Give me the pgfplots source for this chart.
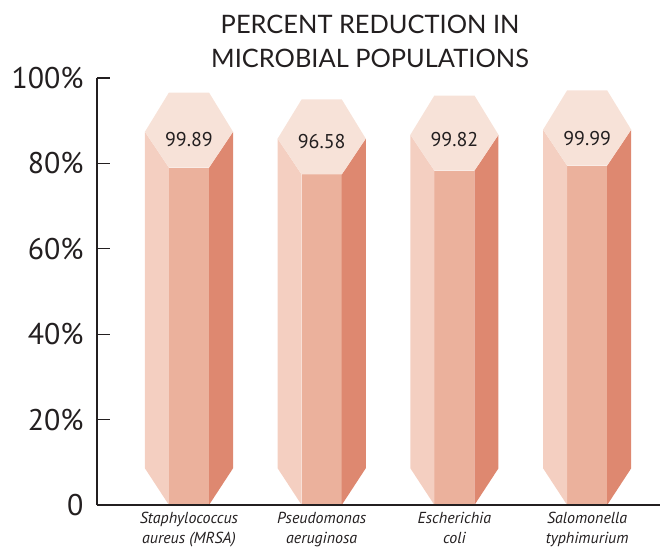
\documentclass[border=0pt]{standalone}
\usepackage{pgfplots}
\pgfplotsset{compat=1.18}
\usepackage{fontspec}
\setmainfont{PT Sans}
\newfontfamily\titlefont{Lato}
\definecolor{topc}{HTML}{F7E2D8}
\definecolor{leftc}{HTML}{F4CFC1}
\definecolor{midc}{HTML}{EBB19C}
\definecolor{rightc}{HTML}{DE8870}
\definecolor{textc}{HTML}{231F20}
\begin{document}
\begin{tikzpicture}
\useasboundingbox (-97bp,-45bp) rectangle (563bp,505bp);
\begin{axis}[
  at={(0,0)}, anchor=south west,
  scale only axis, width=563bp, height=427bp,
  xmin=-0.693, xmax=3.549, ymin=0, ymax=100,
  axis x line=bottom, axis y line=left,
  axis line style={-, line width=1.3bp, color=textc},
  clip=false, axis on top,
  ytick={0,20,40,60,80,100},
  yticklabels={0,20\%,40\%,60\%,80\%,100\%},
  tick align=inside, major tick length=13bp,
  ytick style={line width=1.3bp, color=textc},
  yticklabel style={font=\fontsize{30}{30}\selectfont, text=textc, xshift=-10bp},
  xtick={0,1,2,3},
  xticklabels={{Staphylococcus\\aureus (MRSA)},{Pseudomonas\\aeruginosa},{Escherichia\\coli},{Salomonella\\typhimurium}},
  xtick style={draw=none},
  xticklabel style={font=\itshape\fontsize{16}{20}\selectfont, align=center, text=textc, yshift=-4bp},
  title={PERCENT REDUCTION IN\\MICROBIAL POPULATIONS},
  title style={at={(0.485,1.071)}, anchor=center, align=center, font=\titlefont\fontsize{25.5}{34}\selectfont, text=textc},
]
% Bar 1
\addplot[fill=midc, draw=none] coordinates {(-0.151,0) (0.151,0) (0.151,79.0) (-0.151,79.0)};
\addplot[fill=leftc, draw=none] coordinates {(-0.332,8.6) (-0.151,0) (-0.151,79.0) (-0.332,87.4)};
\addplot[fill=rightc, draw=none] coordinates {(0.332,8.6) (0.151,0) (0.151,79.0) (0.332,87.4)};
\addplot[fill=topc, draw=none] coordinates {(-0.151,79.0) (0.151,79.0) (0.332,87.4) (0.151,96.6) (-0.151,96.6) (-0.332,87.4)};
% Bar 2
\addplot[fill=midc, draw=none] coordinates {(0.849,0) (1.151,0) (1.151,77.4) (0.849,77.4)};
\addplot[fill=leftc, draw=none] coordinates {(0.668,8.6) (0.849,0) (0.849,77.4) (0.668,85.8)};
\addplot[fill=rightc, draw=none] coordinates {(1.332,8.6) (1.151,0) (1.151,77.4) (1.332,85.8)};
\addplot[fill=topc, draw=none] coordinates {(0.849,77.4) (1.151,77.4) (1.332,85.8) (1.151,95.0) (0.849,95.0) (0.668,85.8)};
% Bar 3
\addplot[fill=midc, draw=none] coordinates {(1.849,0) (2.151,0) (2.151,78.3) (1.849,78.3)};
\addplot[fill=leftc, draw=none] coordinates {(1.668,8.6) (1.849,0) (1.849,78.3) (1.668,86.7)};
\addplot[fill=rightc, draw=none] coordinates {(2.332,8.6) (2.151,0) (2.151,78.3) (2.332,86.7)};
\addplot[fill=topc, draw=none] coordinates {(1.849,78.3) (2.151,78.3) (2.332,86.7) (2.151,95.9) (1.849,95.9) (1.668,86.7)};
% Bar 4
\addplot[fill=midc, draw=none] coordinates {(2.849,0) (3.151,0) (3.151,79.5) (2.849,79.5)};
\addplot[fill=leftc, draw=none] coordinates {(2.668,8.6) (2.849,0) (2.849,79.5) (2.668,87.9)};
\addplot[fill=rightc, draw=none] coordinates {(3.332,8.6) (3.151,0) (3.151,79.5) (3.332,87.9)};
\addplot[fill=topc, draw=none] coordinates {(2.849,79.5) (3.151,79.5) (3.332,87.9) (3.151,97.1) (2.849,97.1) (2.668,87.9)};
% Values
\addplot[draw=none, mark=none, nodes near coords, point meta=explicit symbolic,
  every node near coord/.style={anchor=center, font=\fontsize{20}{20}\selectfont, text=textc}]
  coordinates {(0,85.6)[99.89] (1,85.2)[96.58] (2,85.6)[99.82] (3,85.8)[99.99]};
\end{axis}
\end{tikzpicture}
\end{document}
